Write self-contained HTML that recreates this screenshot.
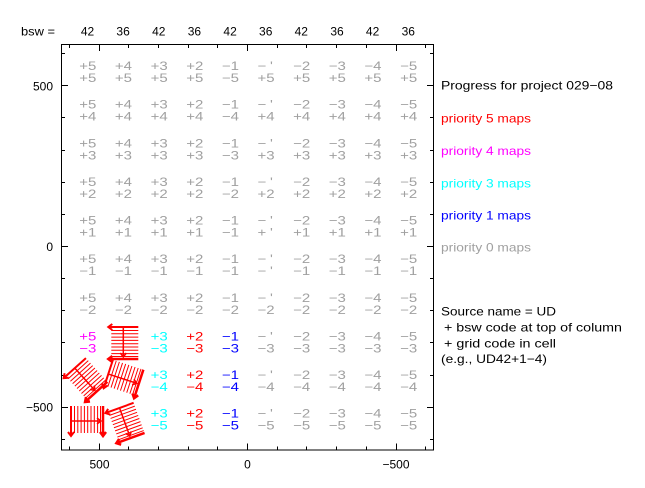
<!DOCTYPE html>
<html><head><meta charset="utf-8"><style>
html,body{margin:0;padding:0;background:#fff;}
svg{display:block}
text{font-family:"Liberation Sans",sans-serif;font-size:12px;}
</style></head><body>
<svg width="645" height="488" viewBox="0 0 645 488" xmlns="http://www.w3.org/2000/svg">
<rect width="645" height="488" fill="#fff"/>
<defs><g id="sh" stroke="#f00" fill="none">
<path d="M-12 -12.5H15M-12 -9.2H15M-12 -5.9H15M-12 -2.6H15M-12 0.7H15M-12 4H15M-12 7.3H15M-12 10.6H15M-12 13.5H15" stroke-width="1"/>
<path d="M-15 -16H15M-11 -19L-15 -16L-11 -13" stroke-width="2"/>
<path d="M0 -16V14M-3 10L0 14L3 10" stroke-width="1.5"/>
<path d="M-15 16H15M-11 13L-15 16L-11 19" stroke-width="2.5"/>
</g></defs>

<!-- box -->
<rect x="61.5" y="44.5" width="372" height="405.5" fill="none" stroke="#000" stroke-width="1"/>
<!-- ticks -->
<path stroke="#000" stroke-width="1" fill="none" d="
M61.5 53.5H65M61.5 85.5H68M61.5 117.5H65M61.5 150.5H65M61.5 182.5H65M61.5 214.5H65M61.5 246.5H68M61.5 278.5H65M61.5 310.5H65M61.5 342.5H65M61.5 375.5H65M61.5 407.5H68M61.5 439.5H65
M433.5 53.5H430M433.5 85.5H427M433.5 117.5H430M433.5 150.5H430M433.5 182.5H430M433.5 214.5H430M433.5 246.5H427M433.5 278.5H430M433.5 310.5H430M433.5 342.5H430M433.5 375.5H430M433.5 407.5H427M433.5 439.5H430
M69.5 44.5V48M99.5 44.5V51M128.5 44.5V48M158.5 44.5V48M188.5 44.5V48M217.5 44.5V48M247.5 44.5V51M277.5 44.5V48M306.5 44.5V48M336.5 44.5V48M366.5 44.5V48M396.5 44.5V51M425.5 44.5V48
M69.5 450V446.5M99.5 450V443.5M128.5 450V446.5M158.5 450V446.5M188.5 450V446.5M217.5 450V446.5M247.5 450V443.5M277.5 450V446.5M306.5 450V446.5M336.5 450V446.5M366.5 450V446.5M396.5 450V443.5M425.5 450V446.5"/>

<!-- axis labels -->
<g fill="#000">
<text x="53" y="90.5" text-anchor="end">500</text>
<text x="53" y="250.8" text-anchor="end">0</text>
<text x="53" y="411.5" text-anchor="end">−500</text>
<text x="99.5" y="468.5" text-anchor="middle">500</text>
<text x="247.5" y="468.5" text-anchor="middle">0</text>
<text x="396" y="468.5" text-anchor="middle">−500</text>
</g>

<!-- top labels -->
<g fill="#000">
<text x="21" y="35.3" textLength="34" lengthAdjust="spacingAndGlyphs">bsw =</text>
<text x="87.5" y="35.3" text-anchor="middle">42</text>
<text x="123.1" y="35.3" text-anchor="middle">36</text>
<text x="158.8" y="35.3" text-anchor="middle">42</text>
<text x="194.4" y="35.3" text-anchor="middle">36</text>
<text x="230.1" y="35.3" text-anchor="middle">42</text>
<text x="265.7" y="35.3" text-anchor="middle">36</text>
<text x="301.3" y="35.3" text-anchor="middle">42</text>
<text x="337" y="35.3" text-anchor="middle">36</text>
<text x="372.6" y="35.3" text-anchor="middle">42</text>
<text x="408.3" y="35.3" text-anchor="middle">36</text>
</g>

<!-- column 0 -->
<g transform="translate(79.3 0) scale(1.25 1)" fill="#a0a0a0">
<text y="70">+5</text><text y="82">+5</text>
<text y="108.6">+5</text><text y="120.6">+4</text>
<text y="147.3">+5</text><text y="159.3">+3</text>
<text y="185.9">+5</text><text y="197.9">+2</text>
<text y="224.5">+5</text><text y="236.5">+1</text>
<text y="263.2">+5</text><text y="275.2">−1</text>
<text y="301.8">+5</text><text y="313.8">−2</text>
<text y="340.4" fill="#f0f">+5</text><text y="352.4" fill="#f0f">−3</text>
</g>
<!-- column 1 -->
<g transform="translate(114.9 0) scale(1.25 1)" fill="#a0a0a0">
<text y="70">+4</text><text y="82">+5</text>
<text y="108.6">+4</text><text y="120.6">+4</text>
<text y="147.3">+4</text><text y="159.3">+3</text>
<text y="185.9">+4</text><text y="197.9">+2</text>
<text y="224.5">+4</text><text y="236.5">+1</text>
<text y="263.2">+4</text><text y="275.2">−1</text>
<text y="301.8">+4</text><text y="313.8">−2</text>
</g>
<!-- column 2 -->
<g transform="translate(150.6 0) scale(1.25 1)" fill="#a0a0a0">
<text y="70">+3</text><text y="82">+5</text>
<text y="108.6">+3</text><text y="120.6">+4</text>
<text y="147.3">+3</text><text y="159.3">+3</text>
<text y="185.9">+3</text><text y="197.9">+2</text>
<text y="224.5">+3</text><text y="236.5">+1</text>
<text y="263.2">+3</text><text y="275.2">−1</text>
<text y="301.8">+3</text><text y="313.8">−2</text>
<text y="340.4" fill="#0ff">+3</text><text y="352.4" fill="#0ff">−3</text>
<text y="379" fill="#0ff">+3</text><text y="391" fill="#0ff">−4</text>
<text y="417.7" fill="#0ff">+3</text><text y="429.7" fill="#0ff">−5</text>
</g>
<!-- column 3 -->
<g transform="translate(186.2 0) scale(1.25 1)" fill="#a0a0a0">
<text y="70">+2</text><text y="82">+5</text>
<text y="108.6">+2</text><text y="120.6">+4</text>
<text y="147.3">+2</text><text y="159.3">+3</text>
<text y="185.9">+2</text><text y="197.9">+2</text>
<text y="224.5">+2</text><text y="236.5">+1</text>
<text y="263.2">+2</text><text y="275.2">−1</text>
<text y="301.8">+2</text><text y="313.8">−2</text>
<text y="340.4" fill="#f00">+2</text><text y="352.4" fill="#f00">−3</text>
<text y="379" fill="#f00">+2</text><text y="391" fill="#f00">−4</text>
<text y="417.7" fill="#f00">+2</text><text y="429.7" fill="#f00">−5</text>
</g>
<!-- column 4 -->
<g transform="translate(221.9 0) scale(1.25 1)" fill="#a0a0a0">
<text y="70">−1</text><text y="82">−5</text>
<text y="108.6">−1</text><text y="120.6">−4</text>
<text y="147.3">−1</text><text y="159.3">−3</text>
<text y="185.9">−1</text><text y="197.9">−2</text>
<text y="224.5">−1</text><text y="236.5">−1</text>
<text y="263.2">−1</text><text y="275.2">−1</text>
<text y="301.8">−1</text><text y="313.8">−2</text>
<text y="340.4" fill="#00f">−1</text><text y="352.4" fill="#00f">−3</text>
<text y="379" fill="#00f">−1</text><text y="391" fill="#00f">−4</text>
<text y="417.7" fill="#00f">−1</text><text y="429.7" fill="#00f">−5</text>
</g>
<!-- column 5 -->
<g transform="translate(257.5 0) scale(1.25 1)" fill="#a0a0a0">
<text y="70">−<tspan dx="3">'</tspan></text><text y="82">+5</text>
<text y="108.6">−<tspan dx="3">'</tspan></text><text y="120.6">+4</text>
<text y="147.3">−<tspan dx="3">'</tspan></text><text y="159.3">+3</text>
<text y="185.9">−<tspan dx="3">'</tspan></text><text y="197.9">+2</text>
<text y="224.5">−<tspan dx="3">'</tspan></text><text y="236.5">+<tspan dx="3">'</tspan></text>
<text y="263.2">−<tspan dx="3">'</tspan></text><text y="275.2">−<tspan dx="3">'</tspan></text>
<text y="301.8">−<tspan dx="3">'</tspan></text><text y="313.8">−2</text>
<text y="340.4">−<tspan dx="3">'</tspan></text><text y="352.4">−3</text>
<text y="379">−<tspan dx="3">'</tspan></text><text y="391">−4</text>
<text y="417.7">−<tspan dx="3">'</tspan></text><text y="429.7">−5</text>
</g>
<!-- column 6 -->
<g transform="translate(293.1 0) scale(1.25 1)" fill="#a0a0a0">
<text y="70">−2</text><text y="82">+5</text>
<text y="108.6">−2</text><text y="120.6">+4</text>
<text y="147.3">−2</text><text y="159.3">+3</text>
<text y="185.9">−2</text><text y="197.9">+2</text>
<text y="224.5">−2</text><text y="236.5">+1</text>
<text y="263.2">−2</text><text y="275.2">−1</text>
<text y="301.8">−2</text><text y="313.8">−2</text>
<text y="340.4">−2</text><text y="352.4">−3</text>
<text y="379">−2</text><text y="391">−4</text>
<text y="417.7">−2</text><text y="429.7">−5</text>
</g>
<!-- column 7 -->
<g transform="translate(328.8 0) scale(1.25 1)" fill="#a0a0a0">
<text y="70">−3</text><text y="82">+5</text>
<text y="108.6">−3</text><text y="120.6">+4</text>
<text y="147.3">−3</text><text y="159.3">+3</text>
<text y="185.9">−3</text><text y="197.9">+2</text>
<text y="224.5">−3</text><text y="236.5">+1</text>
<text y="263.2">−3</text><text y="275.2">−1</text>
<text y="301.8">−3</text><text y="313.8">−2</text>
<text y="340.4">−3</text><text y="352.4">−3</text>
<text y="379">−3</text><text y="391">−4</text>
<text y="417.7">−3</text><text y="429.7">−5</text>
</g>
<!-- column 8 -->
<g transform="translate(364.4 0) scale(1.25 1)" fill="#a0a0a0">
<text y="70">−4</text><text y="82">+5</text>
<text y="108.6">−4</text><text y="120.6">+4</text>
<text y="147.3">−4</text><text y="159.3">+3</text>
<text y="185.9">−4</text><text y="197.9">+2</text>
<text y="224.5">−4</text><text y="236.5">+1</text>
<text y="263.2">−4</text><text y="275.2">−1</text>
<text y="301.8">−4</text><text y="313.8">−2</text>
<text y="340.4">−4</text><text y="352.4">−3</text>
<text y="379">−4</text><text y="391">−4</text>
<text y="417.7">−4</text><text y="429.7">−5</text>
</g>
<!-- column 9 -->
<g transform="translate(400.1 0) scale(1.25 1)" fill="#a0a0a0">
<text y="70">−5</text><text y="82">+5</text>
<text y="108.6">−5</text><text y="120.6">+4</text>
<text y="147.3">−5</text><text y="159.3">+3</text>
<text y="185.9">−5</text><text y="197.9">+2</text>
<text y="224.5">−5</text><text y="236.5">+1</text>
<text y="263.2">−5</text><text y="275.2">−1</text>
<text y="301.8">−5</text><text y="313.8">−2</text>
<text y="340.4">−5</text><text y="352.4">−3</text>
<text y="379">−5</text><text y="391">−4</text>
<text y="417.7">−5</text><text y="429.7">−5</text>
</g>

<!-- red arrow shapes -->
<use href="#sh" transform="translate(123.3 343)"/>
<use href="#sh" transform="translate(85.5 380) rotate(-42)"/>
<use href="#sh" transform="translate(123.5 379) rotate(-72)"/>
<use href="#sh" transform="translate(87 421) rotate(-90)"/>
<use href="#sh" transform="translate(125 423) rotate(-20)"/>

<!-- legend -->
<text x="441" y="89.3" fill="#000" textLength="172" lengthAdjust="spacingAndGlyphs">Progress for project 029−08</text>
<text x="441" y="122.7" fill="#f00" textLength="90" lengthAdjust="spacingAndGlyphs">priority 5 maps</text>
<text x="441" y="155" fill="#f0f" textLength="90" lengthAdjust="spacingAndGlyphs">priority 4 maps</text>
<text x="441" y="187.3" fill="#0ff" textLength="90" lengthAdjust="spacingAndGlyphs">priority 3 maps</text>
<text x="441" y="219.3" fill="#00f" textLength="90" lengthAdjust="spacingAndGlyphs">priority 1 maps</text>
<text x="441" y="251.7" fill="#a0a0a0" textLength="90" lengthAdjust="spacingAndGlyphs">priority 0 maps</text>
<text x="441" y="315.7" fill="#000" textLength="115" lengthAdjust="spacingAndGlyphs">Source name = UD</text>
<text x="444" y="331.7" fill="#000" textLength="178" lengthAdjust="spacingAndGlyphs">+ bsw code at top of column</text>
<text x="444" y="347.7" fill="#000" textLength="112" lengthAdjust="spacingAndGlyphs">+ grid code in cell</text>
<text x="441" y="363" fill="#000" textLength="106" lengthAdjust="spacingAndGlyphs">(e.g., UD42+1−4)</text>
</svg>
</body></html>
